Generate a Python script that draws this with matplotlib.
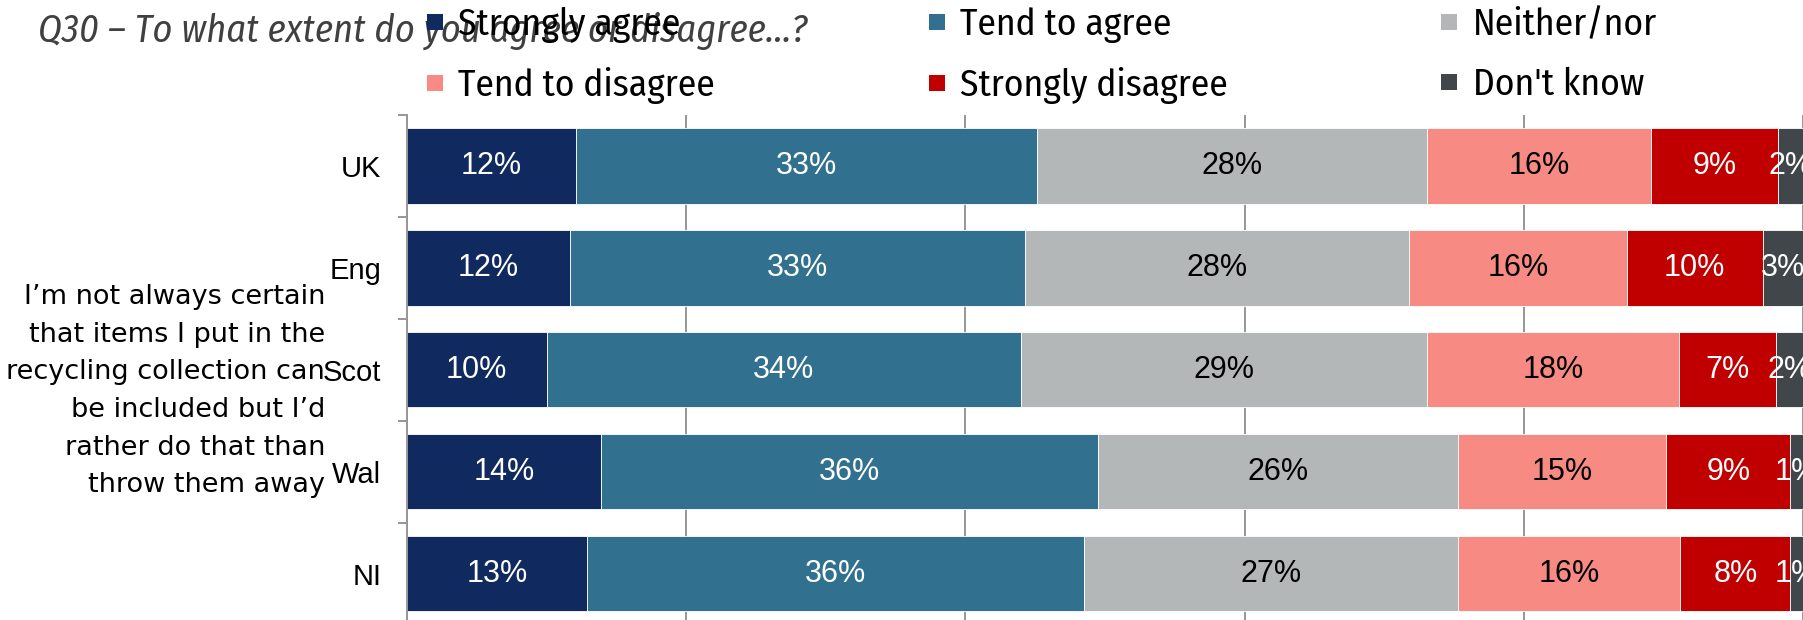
import matplotlib.pyplot as plt
from matplotlib.lines import Line2D
import numpy as np

# survey responses, percent of respondents per nation
nations = ["UK", "Eng", "Scot", "Wal", "NI"]
strongly_agree = [12.1, 11.7, 10.0, 13.9, 12.9]
tend_agree = [33.0, 32.6, 34.0, 35.6, 35.6]
neither = [28.0, 27.5, 29.1, 25.8, 26.8]
tend_disagree = [16.0, 15.6, 18.0, 14.9, 15.9]
strongly_disagree = [9.1, 9.7, 7.0, 8.9, 7.9]
dont_know = [1.8, 2.9, 1.9, 0.9, 0.9]

answers = ["Strongly agree", "Tend to agree", "Neither/nor",
           "Tend to disagree", "Strongly disagree", "Don't know"]
colors = ["#10295E", "#31708F", "#B4B7B8", "#F78B84", "#C00000", "#41464A"]
label_colors = ["white", "white", "black", "black", "white", "white"]

statement = ("I\u2019m not always certain\nthat items I put in the\n"
             "recycling collection can\nbe included but I\u2019d\n"
             "rather do that than\nthrow them away")
title = "Q30 \u2013 To what extent do you agree or disagree\u2026?"

series = [strongly_agree, tend_agree, neither, tend_disagree,
          strongly_disagree, dont_know]

narrow = ["Fira Sans Condensed", "Liberation Sans Narrow", "DejaVu Sans"]
grey = "#969696"

fig = plt.figure(figsize=(18.03, 6.2), dpi=100)
ax = fig.add_axes([0.2257, -0.0073, 0.7743, 0.8218])

y = np.arange(len(nations))
left = np.zeros(len(nations))
for vals, name, col, tcol in zip(series, answers, colors, label_colors):
    vals = np.array(vals)
    bars = ax.barh(y, vals, left=left, height=0.74, color=col,
                   edgecolor="white", linewidth=0.6, label=name, zorder=2)
    ax.bar_label(bars, labels=[f"{v:.0f}%" for v in vals],
                 label_type="center", color=tcol, fontsize=22,
                 family="Liberation Sans", clip_on=False)
    left += vals

ax.set_xlim(0, 100)
ax.set_ylim(4.5, -0.5)
ax.set_xticks(np.arange(0, 101, 20))
ax.tick_params(axis="x", length=0, labelbottom=False)
ax.grid(axis="x", color=grey, linewidth=1.4, zorder=0)
ax.set_axisbelow(True)

ax.set_yticks(y)
ax.set_yticklabels(nations, fontsize=21, family="Liberation Sans")
ax.set_yticks(np.arange(-0.5, len(nations)), minor=True)
ax.tick_params(axis="y", which="major", length=0, pad=18.5)
ax.tick_params(axis="y", which="minor", length=6.5, width=1.4, color=grey)

for s in ["top", "right", "bottom"]:
    ax.spines[s].set_visible(False)
ax.spines["left"].set_color(grey)
ax.spines["left"].set_linewidth(1.4)

fig.text(0.1803, 0.369, statement, ha="right", va="center", fontsize=19.5,
         family="DejaVu Sans", linespacing=1.58)

fig.text(0.021, 0.95, title, ha="left", va="center", fontsize=27.6,
         style="italic", color="#404040", family=narrow)

# legend: row-major order across three columns
order = [0, 3, 1, 4, 2, 5]
handles = [Line2D([], [], marker="s", linestyle="none", markersize=11,
                  markerfacecolor=colors[i], markeredgewidth=0)
           for i in order]
fig.legend(handles, [answers[i] for i in order], ncol=3,
           loc="upper left", bbox_to_anchor=(0.221, 1.031),
           frameon=False, prop={"family": narrow, "size": 27},
           handlelength=0.55, handletextpad=0.35, columnspacing=5.63,
           labelspacing=0.64, borderpad=0.2)

fig.savefig("out.png", dpi=100)
